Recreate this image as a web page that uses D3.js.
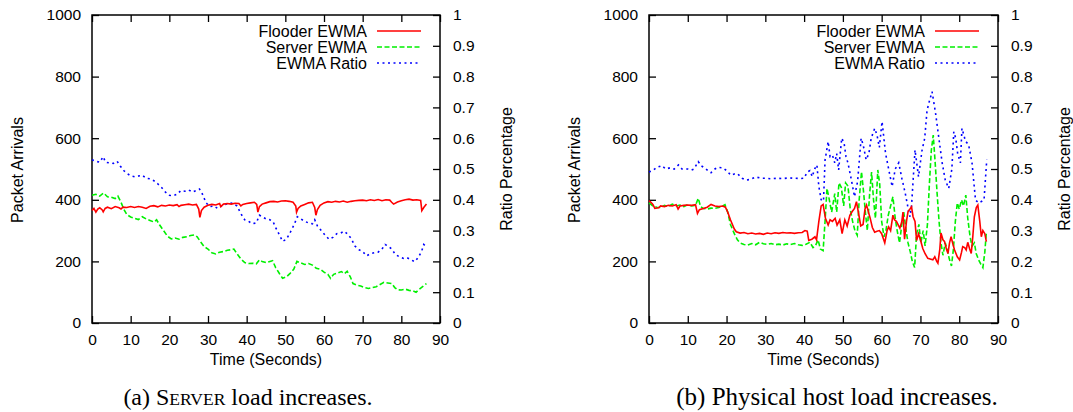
<!DOCTYPE html>
<html>
<head>
<meta charset="utf-8">
<script src="https://cdn.jsdelivr.net/npm/d3@7"></script>
<style>
  body { margin: 0; background: #fff; }
  svg text { font-family: "Liberation Sans", Arial, sans-serif; fill: #000; }
  .caption { font-family: "Liberation Serif", "Times New Roman", serif; }
</style>
</head>
<body>
<svg id="chart" width="1073" height="412"></svg>
<script>
// ticks
const xTicks = [0, 10, 20, 30, 40, 50, 60, 70, 80, 90];
const yTicks = [0, 200, 400, 600, 800, 1000];
const y2Ticks = [0, 0.1, 0.2, 0.3, 0.4, 0.5, 0.6, 0.7, 0.8, 0.9, 1];
const legendLabels = ["Flooder EWMA", "Server EWMA", "EWMA Ratio"];

// (a) server load increases -- [seconds, packets] / [seconds, ratio]
const leftFlooder = [[0,365],[0.5,372],[1,360],[1.5,370],[2,374],[2.6,368],[2.9,361],[3.4,372],[4,376],[5,371],[6,378],[7,374],[7.5,370],[8,376],[9,375],[10,378],[11,375],[12,378],[13,376],[14,372],[15,379],[16,381],[17,377],[18,382],[19,380],[20,383],[21,381],[22,384],[22.5,378],[23,382],[24,384],[25,386],[26,383],[27,385],[27.6,370],[27.9,343],[28.3,365],[29,376],[30,382],[31,385],[32,383],[33,388],[33.3,378],[34,386],[35,388],[36,386],[37,389],[38,388],[38.5,380],[39,385],[40,388],[41,390],[42,392],[42.6,385],[42.9,360],[43.3,378],[44,386],[45,390],[46,394],[47,395],[48,393],[49,396],[50,397],[51,395],[52,392],[52.7,380],[52.9,360],[53.3,372],[54,380],[55,385],[56,390],[57,392],[57.6,375],[57.9,350],[58.3,368],[59,382],[60,390],[61,394],[62,392],[63,395],[64,393],[65,396],[66,392],[67,395],[68,397],[69,398],[70,399],[71,397],[72,400],[73,398],[74,401],[75,397],[76,400],[77,399],[77.5,392],[78,386],[79,393],[80,397],[81,400],[82,402],[83,399],[84,400],[85,398],[85.3,365],[85.8,375],[86.5,386]];
const leftServer = [[0,415],[1,418],[2,412],[3,422],[4,410],[5,408],[6,404],[6.7,412],[7.5,392],[8.2,370],[9,352],[10,344],[11,340],[12,336],[13,345],[14,338],[15,333],[16,328],[16.7,335],[17.5,318],[18.5,300],[19.5,282],[20.5,273],[21.5,276],[22.5,272],[23.5,278],[24.5,280],[25.5,284],[26.5,286],[27.2,280],[28,265],[29,248],[30,240],[31,228],[32,224],[33,230],[34,232],[35,236],[36,238],[36.7,240],[37.5,225],[38.5,208],[39.5,196],[40.5,193],[41.5,194],[42.5,192],[43.3,205],[44,200],[45,196],[46,200],[46.7,202],[47.5,180],[48.5,160],[49.3,145],[50.3,150],[51.3,162],[52.2,175],[53,200],[54,195],[55,190],[56,193],[57,188],[58,178],[59,175],[60,165],[61,158],[61.7,145],[62.5,158],[63.5,162],[64.5,167],[65.3,160],[66,168],[66.8,150],[67.5,128],[68.5,123],[69.5,120],[70.5,115],[71.5,112],[72.5,115],[73.5,118],[74.5,125],[75.5,132],[76.5,130],[77.5,128],[78.3,115],[79,108],[80,107],[81,110],[82,106],[83,104],[83.8,100],[84.5,108],[85.5,118],[86.5,128]];
const leftRatio = [[0,0.53],[1,0.525],[2,0.522],[2.9,0.54],[3.5,0.522],[4.5,0.52],[5.5,0.518],[6.5,0.525],[7.3,0.51],[8.2,0.495],[9,0.486],[10,0.478],[11,0.475],[12,0.477],[13,0.48],[14,0.47],[15,0.468],[16,0.462],[17,0.452],[18,0.44],[19,0.425],[20,0.415],[21,0.413],[22,0.418],[23,0.43],[24,0.428],[25,0.432],[26,0.425],[27,0.43],[27.8,0.435],[28.5,0.42],[29.5,0.39],[30.5,0.378],[31.5,0.38],[32.5,0.372],[33.5,0.38],[34.5,0.385],[35.5,0.39],[36.5,0.388],[37.5,0.38],[38.5,0.355],[39.5,0.335],[40.5,0.33],[41.5,0.322],[42.5,0.325],[43.3,0.35],[44,0.345],[45,0.338],[46,0.335],[46.8,0.33],[47.5,0.31],[48.5,0.285],[49.3,0.265],[50.3,0.272],[51.3,0.295],[52.3,0.32],[53.1,0.345],[54,0.338],[55,0.33],[56,0.325],[57,0.322],[57.6,0.335],[58.3,0.315],[59.3,0.3],[60.3,0.285],[61.3,0.272],[62.3,0.278],[63.3,0.29],[64.3,0.292],[65.2,0.298],[66,0.29],[67,0.275],[68,0.25],[69,0.238],[70,0.232],[71,0.218],[72,0.225],[73,0.228],[74,0.23],[75,0.24],[75.8,0.255],[76.8,0.248],[77.5,0.24],[78.5,0.222],[79.5,0.215],[80.5,0.21],[81.5,0.212],[82.5,0.205],[83.5,0.199],[84.5,0.215],[85.3,0.235],[85.8,0.255],[86.5,0.248]];

// (b) physical host load increases
const rightFlooder = [[0,397],[0.5,392],[1,385],[1.5,372],[2.5,374],[3,380],[4,378],[5,382],[6,380],[7,384],[7.5,370],[8,380],[9,382],[10,383],[11,382],[12,384],[12.5,356],[13,368],[14,372],[15,376],[16,385],[17,380],[18,378],[19,380],[19.7,376],[20.3,360],[21,335],[22,305],[22.5,296],[23.5,292],[24.5,294],[25.5,290],[26.5,292],[27.5,289],[28.5,291],[29.5,288],[30.5,292],[31.5,290],[32.5,293],[33.5,291],[34.5,294],[35.5,292],[36.5,293],[37.5,291],[38.5,293],[39.5,294],[40.2,300],[40.8,298],[41.2,268],[42,272],[42.8,280],[43.2,270],[43.8,330],[44.4,380],[44.9,385],[45.5,340],[46.2,318],[46.7,335],[47.3,330],[48,340],[48.5,318],[49.2,335],[49.8,290],[50.5,335],[51.1,315],[51.8,350],[52.4,362],[53,372],[53.5,394],[54.2,345],[54.6,315],[55.2,320],[55.7,370],[56.1,383],[56.6,360],[57,342],[57.6,310],[58.2,295],[58.8,298],[59.4,300],[60,290],[60.8,260],[61.4,300],[61.8,312],[62.3,300],[62.9,350],[63.3,335],[63.8,330],[64.3,318],[64.7,308],[65.2,330],[65.5,360],[65.9,272],[66.4,330],[66.8,362],[67.3,370],[67.7,377],[68.1,345],[68.6,330],[69,268],[69.5,290],[70,270],[70.6,242],[71.2,225],[71.9,210],[72.5,208],[73.2,205],[73.7,215],[74.2,200],[74.5,194],[75,240],[75.3,292],[75.8,270],[76.2,265],[76.7,240],[77.1,226],[77.5,260],[77.9,280],[78.4,255],[78.8,237],[79.5,215],[80.1,205],[80.6,230],[80.9,248],[81.4,245],[81.8,237],[82.2,262],[82.7,240],[83.1,226],[83.5,280],[83.9,345],[84.4,375],[84.8,383],[85.3,330],[85.7,280],[86.1,300],[86.6,290],[87,264]];
const rightServer = [[0,390],[1,380],[2,376],[3,375],[4,382],[5,378],[6,386],[7,380],[8,383],[9,378],[10,384],[11,380],[12,382],[12.7,405],[13.3,378],[14,372],[15,370],[16,373],[17,372],[18,375],[19,380],[19.6,384],[20.3,360],[21,320],[22,290],[22.8,270],[23.5,260],[24.5,255],[25.5,253],[26.5,258],[27.5,254],[28.5,262],[29.5,257],[30.5,255],[31.5,258],[32.5,254],[33.5,256],[34.5,253],[35.5,257],[36.5,255],[37.5,258],[38.5,254],[39.5,252],[40.5,256],[41.5,262],[42.3,245],[42.9,250],[43.6,270],[44.2,240],[44.9,235],[45.4,330],[45.9,437],[46.5,400],[47.1,360],[47.9,420],[48.4,360],[49,455],[49.6,440],[50.2,380],[50.7,455],[51.3,445],[51.9,370],[52.5,330],[53.1,300],[53.7,285],[54.2,400],[54.8,491],[55.3,430],[55.8,360],[56.3,300],[56.9,420],[57.4,490],[57.9,400],[58.4,340],[59,497],[59.5,450],[60,330],[60.6,280],[61.1,300],[61.7,350],[62.3,380],[62.9,410],[63.5,340],[64,300],[64.6,260],[65.2,320],[65.7,360],[66.3,300],[66.8,260],[67.4,230],[67.9,200],[68.5,180],[69,290],[69.6,320],[70.1,260],[70.7,300],[71.2,250],[71.8,320],[72.3,450],[72.8,560],[73.3,610],[73.8,520],[74.3,420],[74.8,330],[75.3,260],[75.8,220],[76.4,260],[76.9,240],[77.4,210],[78,185],[78.5,240],[79,330],[79.5,390],[80,370],[80.6,400],[81.1,380],[81.7,415],[82.2,340],[82.8,280],[83.3,250],[83.9,260],[84.4,225],[85,205],[85.6,190],[86.1,180],[86.6,230],[87,295]];
const rightRatio = [[0,0.49],[1,0.495],[2,0.505],[3.3,0.511],[4.3,0.5],[5.5,0.504],[6.5,0.5],[7.6,0.513],[8.5,0.5],[10,0.5],[11,0.497],[11.6,0.5],[12.7,0.524],[13.5,0.51],[14.4,0.503],[15.2,0.495],[16,0.488],[17,0.5],[17.7,0.505],[19,0.504],[20,0.495],[21.1,0.48],[22,0.484],[22.8,0.485],[24,0.47],[25,0.464],[26,0.466],[27.5,0.474],[29,0.47],[30,0.47],[31.5,0.468],[33,0.47],[34.5,0.469],[36,0.471],[37.5,0.47],[39,0.469],[40,0.47],[40.8,0.49],[41.5,0.495],[42.1,0.475],[42.7,0.5],[43.3,0.513],[43.8,0.443],[44.4,0.4],[45,0.396],[45.4,0.529],[46.2,0.589],[46.7,0.54],[47.3,0.545],[47.9,0.52],[48.4,0.55],[48.9,0.497],[49.7,0.6],[50.3,0.585],[50.8,0.54],[51.3,0.52],[52.2,0.464],[53,0.41],[53.8,0.46],[54.7,0.6],[55.2,0.58],[56,0.53],[56.7,0.55],[57.3,0.6],[58.2,0.632],[58.8,0.61],[59.4,0.57],[60.1,0.654],[61,0.551],[61.8,0.5],[62.7,0.443],[63.5,0.5],[64.4,0.52],[65.2,0.47],[66.1,0.42],[66.9,0.367],[67.3,0.345],[67.7,0.38],[68.6,0.562],[69.5,0.475],[70.4,0.56],[71.1,0.6],[71.7,0.69],[72.3,0.72],[73,0.751],[73.9,0.681],[74.7,0.605],[75.6,0.52],[76.4,0.464],[77.3,0.437],[78.1,0.5],[78.6,0.621],[79.1,0.6],[79.6,0.55],[80.3,0.52],[80.7,0.632],[81.2,0.61],[81.6,0.59],[82.4,0.58],[83.3,0.52],[84.2,0.399],[85,0.39],[85.8,0.395],[86.4,0.4],[87.1,0.53]];

const svg = d3.select("#chart");
const plotTop = 15, plotBottom = 323, tickLen = 7;

const styles = [
  { color: "#ff0000", dash: null },
  { color: "#00f000", dash: "5,2.5" },
  { color: "#0000ff", dash: "2,3.5" }
];

function drawPanel(p) {
  const x = d3.scaleLinear().domain([0, 90]).range([p.left, p.right]);
  const y = d3.scaleLinear().domain([0, 1000]).range([plotBottom, plotTop]);
  const y2 = d3.scaleLinear().domain([0, 1]).range([plotBottom, plotTop]);
  const g = svg.append("g");

  // axes, ticks pointing inward
  const axes = [
    g.append("g").attr("transform", `translate(0,${plotBottom})`)
      .call(d3.axisBottom(x).tickValues(xTicks).tickSizeInner(-tickLen).tickSizeOuter(0).tickPadding(10.5)),
    g.append("g").attr("transform", `translate(0,${plotTop})`)
      .call(d3.axisTop(x).tickValues(xTicks).tickSizeInner(-tickLen).tickSizeOuter(0).tickFormat("")),
    g.append("g").attr("transform", `translate(${p.left},0)`)
      .call(d3.axisLeft(y).tickValues(yTicks).tickSizeInner(-tickLen).tickSizeOuter(0).tickPadding(11)
        .tickFormat(d3.format("d"))),
    g.append("g").attr("transform", `translate(${p.right},0)`)
      .call(d3.axisRight(y2).tickValues(y2Ticks).tickSizeInner(-tickLen).tickSizeOuter(0).tickPadding(13)
        .tickFormat(d => String(+d.toFixed(1))))
  ];
  axes.forEach(a => {
    a.select(".domain").remove();
    a.selectAll("line").attr("stroke", "#000").attr("stroke-width", 1.3);
    a.selectAll("text").style("font-size", "15.5px").style("font-family", '"Liberation Sans", Arial, sans-serif');
  });

  g.append("rect")
    .attr("x", p.left).attr("y", plotTop)
    .attr("width", p.right - p.left).attr("height", plotBottom - plotTop)
    .attr("fill", "none").attr("stroke", "#000").attr("stroke-width", 1.5);

  // series
  const lineY = d3.line().x(d => x(d[0])).y(d => y(d[1]));
  const lineY2 = d3.line().x(d => x(d[0])).y(d => y2(d[1]));
  const series = [
    { data: p.flooder, gen: lineY },
    { data: p.server, gen: lineY },
    { data: p.ratio, gen: lineY2 }
  ];
  // ratio first, then server, flooder on top
  [2, 1, 0].forEach(i => {
    g.append("path")
      .attr("d", series[i].gen(series[i].data))
      .attr("fill", "none")
      .attr("stroke", styles[i].color)
      .attr("stroke-width", 1.6)
      .attr("stroke-dasharray", styles[i].dash);
  });

  // legend
  legendLabels.forEach((label, i) => {
    const ly = 31 + i * 16;
    g.append("text")
      .attr("x", p.right - 73).attr("y", ly + 5.5)
      .attr("text-anchor", "end")
      .style("font-size", "16px")
      .text(label);
    g.append("line")
      .attr("x1", p.right - 63).attr("x2", p.right - 19)
      .attr("y1", ly).attr("y2", ly)
      .attr("stroke", styles[i].color)
      .attr("stroke-width", 1.6)
      .attr("stroke-dasharray", styles[i].dash);
  });

  // axis titles
  g.append("text")
    .attr("transform", `translate(${p.left - 69.5},170) rotate(-90)`)
    .attr("text-anchor", "middle").style("font-size", "16px")
    .text("Packet Arrivals");
  g.append("text")
    .attr("transform", `translate(${p.right + 71.5},169) rotate(-90)`)
    .attr("text-anchor", "middle").style("font-size", "16px")
    .text("Ratio Percentage");
  g.append("text")
    .attr("x", (p.left + p.right) / 2).attr("y", 365)
    .attr("text-anchor", "middle").style("font-size", "16px")
    .text("Time (Seconds)");

  // caption
  const cap = g.append("text").attr("class", "caption")
    .attr("x", p.capX).attr("y", 405)
    .attr("text-anchor", "middle");
  p.caption.forEach(part => {
    cap.append("tspan").style("font-size", part.size).text(part.text);
  });
}

drawPanel({
  left: 92, right: 440, capX: 248,
  flooder: leftFlooder, server: leftServer, ratio: leftRatio,
  caption: [{ text: "(a) S", size: "24px" }, { text: "ERVER", size: "17.5px" }, { text: " load increases.", size: "24px" }]
});
drawPanel({
  left: 649, right: 998, capX: 837,
  flooder: rightFlooder, server: rightServer, ratio: rightRatio,
  caption: [{ text: "(b) Physical host load increases.", size: "25px" }]
});
</script>
</body>
</html>
